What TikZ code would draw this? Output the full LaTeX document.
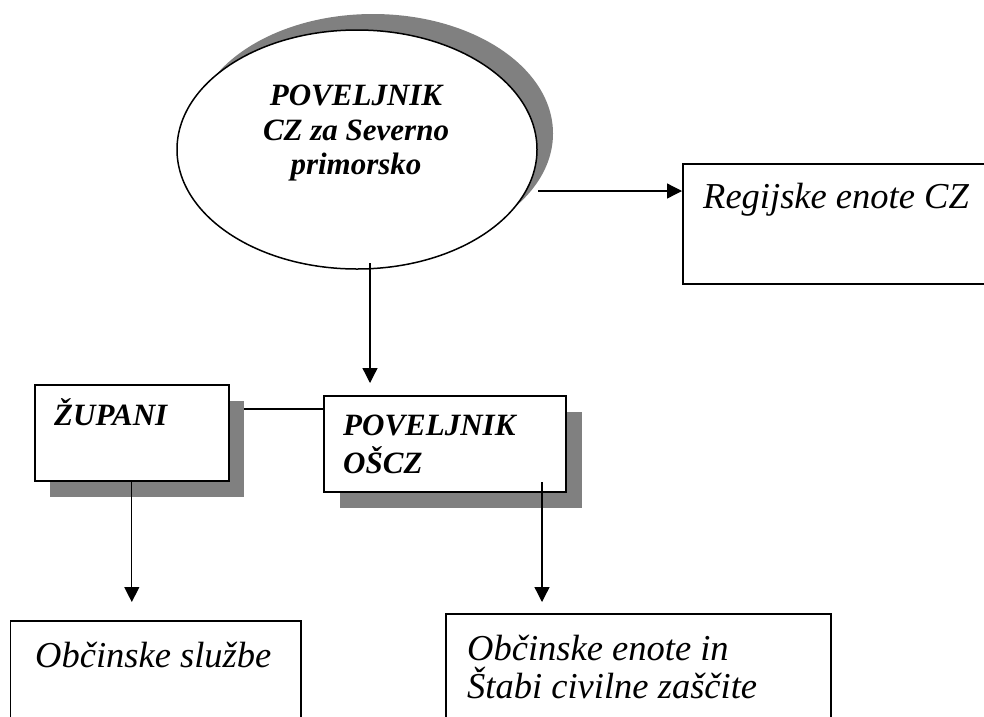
\documentclass[tikz,border=0pt]{standalone}
\usepackage{fontspec}
\setmainfont{Liberation Serif}
\usetikzlibrary{shapes.geometric,arrows.meta}
\definecolor{shade}{RGB}{128,128,128}
\tikzset{
  boxnode/.style={draw, line width=1.6pt, fill=white, rectangle, anchor=north west, inner sep=0pt, minimum width=#1},
  shadownode/.style={fill=shade, rectangle, anchor=north west, inner sep=0pt, minimum width=#1},
  bolabel/.style={anchor=base, inner sep=0pt, font=\fontsize{31}{34}\selectfont\bfseries\itshape},
  bolabelw/.style={anchor=base west, inner sep=0pt, font=\fontsize{31}{34}\selectfont\bfseries\itshape},
  itlabel/.style={anchor=base west, inner sep=0pt, font=\fontsize{36.5}{40}\selectfont\itshape},
  conn/.style={line width=1.3pt},
  arr/.style={line width=1.3pt, -{Triangle[length=15pt,width=15pt]}}
}
\begin{document}
\begin{tikzpicture}[x=1pt,y=-1pt]
\useasboundingbox (0,0) rectangle (984,716);
\fill[white] (0,0) rectangle (984,716);
\clip (0,0) rectangle (984,716);

% top ellipse with shadow
\node[ellipse, fill=shade, inner sep=0pt, minimum width=360pt, minimum height=239pt] (povsh) at (373,133.5) {};
\node[ellipse, draw, line width=1.5pt, fill=white, inner sep=0pt, minimum width=360pt, minimum height=239pt] (pov) at (357,149.5) {};
\node[bolabel] (povl1) at (356,105) {POVELJNIK};
\node[bolabel] (povl2) at (356,140) {CZ za Severno};
\node[bolabel] (povl3) at (356,174) {primorsko};

% Regijske enote
\node[boxnode=330pt, minimum height=120pt] (reg) at (682,163) {};
\node[itlabel] (regl) at (703,208) {Regijske enote CZ};

% ZUPANI
\node[shadownode=194pt, minimum height=96pt] (zupsh) at (50,401) {};
\node[boxnode=194pt, minimum height=96pt] (zup) at (34,384) {};
\node[bolabelw] (zupl) at (54,425) {ŽUPANI};

% POVELJNIK OSCZ
\node[shadownode=242pt, minimum height=96pt] (pocsh) at (340,412) {};
\node[boxnode=242pt, minimum height=96pt] (poc) at (323,395) {};
\node[bolabelw] (pocl1) at (343,435) {POVELJNIK};
\node[bolabelw] (pocl2) at (343,473) {OŠCZ};

% bottom boxes
\node[boxnode=290.5pt, minimum height=130pt] (obs) at (9.5,620) {};
\node[itlabel] (obsl) at (35,667) {Občinske službe};
\node[boxnode=385pt, minimum height=130pt] (obe) at (445,613) {};
\node[itlabel] (obel1) at (467,660) {Občinske enote in};
\node[itlabel] (obel2) at (467,698) {Štabi civilne zaščite};

% connectors
\coordinate (ea) at (538,191);
\draw[arr] (ea) -- (ea -| reg.west);
\coordinate (eb) at (370,263);
\draw[arr, shorten >=12pt] (eb) -- (eb |- poc.north);
\coordinate (zl) at (zupsh.east |- 0,409);
\draw[conn] (zl) -- (zl -| poc.west);
\draw[arr, shorten >=18pt] (zup.south) -- (zup.south |- obs.north);
\coordinate (pb) at (542,482);
\draw[arr, shorten >=11pt] (pb) -- (pb |- obe.north);
\end{tikzpicture}
\end{document}
